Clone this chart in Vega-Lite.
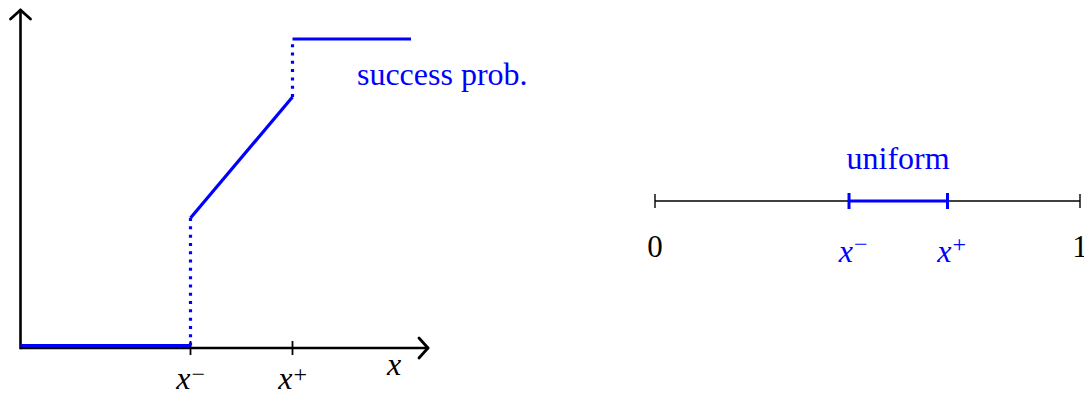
{
  "$schema": "https://vega.github.io/schema/vega-lite/v6.json",
  "width": 1084,
  "height": 394,
  "padding": 0,
  "autosize": "none",
  "background": "white",
  "config": {"view": {"stroke": null}, "text": {"font": "'Liberation Serif', 'DejaVu Serif', serif"}},
  "layer": [
    {
      "encoding": {
        "x": {"field": "x", "type": "quantitative", "axis": null,
              "scale": {"domain": [-0.120588, 6.255882], "nice": false, "zero": false}},
        "y": {"field": "y", "type": "quantitative", "axis": null,
              "scale": {"domain": [-0.14887, 1.12621], "nice": false, "zero": false}}
      },
      "layer": [
        {
          "data": {"values": [
            {"part": "x axis", "x": 0, "y": 0, "x2": 2.397, "y2": 0},
            {"part": "y axis", "x": 0, "y": -0.004, "x2": 0, "y2": 1.094}
          ]},
          "mark": {"type": "rule", "color": "black", "strokeWidth": 2.6},
          "encoding": {"x2": {"field": "x2"}, "y2": {"field": "y2"}}
        },
        {
          "data": {"values": [
            {"part": "x arrow", "x": 2.344, "y": 0.0324, "x2": 2.397, "y2": 0},
            {"part": "x arrow", "x": 2.344, "y": -0.0324, "x2": 2.397, "y2": 0},
            {"part": "y arrow", "x": -0.0588, "y": 1.0647, "x2": 0, "y2": 1.094},
            {"part": "y arrow", "x": 0.0588, "y": 1.0647, "x2": 0, "y2": 1.094}
          ]},
          "mark": {"type": "rule", "color": "black", "strokeWidth": 2.8, "strokeCap": "round"},
          "encoding": {"x2": {"field": "x2"}, "y2": {"field": "y2"}}
        },
        {
          "data": {"values": [{"x": 1, "y": 0}, {"x": 1.6, "y": 0}]},
          "mark": {"type": "tick", "orient": "vertical", "color": "black", "size": 14, "thickness": 1.8, "opacity": 1}
        },
        {
          "data": {"values": [{"x": 0, "y": 0, "x2": 1, "y2": 0}]},
          "mark": {"type": "rule", "color": "#0000ff", "strokeWidth": 3.2, "yOffset": -2.5, "y2Offset": -2.5},
          "encoding": {"x2": {"field": "x2"}, "y2": {"field": "y2"}}
        },
        {
          "data": {"values": [
            {"x": 1, "y": 0.4207, "x2": 1.6, "y2": 0.8123},
            {"x": 1.6, "y": 1, "x2": 2.297, "y2": 1}
          ]},
          "mark": {"type": "rule", "color": "#0000ff", "strokeWidth": 3.2},
          "encoding": {"x2": {"field": "x2"}, "y2": {"field": "y2"}}
        },
        {
          "data": {"values": [
            {"x": 1, "y": 0.008, "x2": 1, "y2": 0.4207},
            {"x": 1.6, "y": 0.8123, "x2": 1.6, "y2": 1}
          ]},
          "mark": {"type": "rule", "color": "#0000ff", "strokeWidth": 3.2, "strokeDash": [3, 5.3]},
          "encoding": {"x2": {"field": "x2"}, "y2": {"field": "y2"}}
        },
        {
          "data": {"values": [{"x": 1.979, "y": 0.8511, "label": "success prob."}]},
          "mark": {"type": "text", "align": "left", "baseline": "alphabetic", "color": "#0000ff", "fontSize": 32},
          "encoding": {"text": {"field": "label"}}
        },
        {
          "data": {"values": [{"x": 2.197, "y": 0, "label": "x"}]},
          "mark": {"type": "text", "align": "center", "baseline": "alphabetic", "dy": 27, "color": "black",
                   "fontStyle": "italic", "fontSize": 32},
          "encoding": {"text": {"field": "label"}}
        },
        {
          "data": {"values": [
            {"x": 1, "y": 0, "base": "x", "sup": "−"},
            {"x": 1.6, "y": 0, "base": "x", "sup": "+"}
          ]},
          "layer": [
            {
              "mark": {"type": "text", "align": "right", "baseline": "alphabetic", "dy": 41, "dx": 0, "color": "black",
                       "fontStyle": "italic", "fontSize": 32},
              "encoding": {"text": {"field": "base"}}
            },
            {
              "mark": {"type": "text", "align": "left", "baseline": "alphabetic", "dy": 34, "dx": 1, "color": "black",
                       "fontSize": 24},
              "encoding": {"text": {"field": "sup"}}
            }
          ]
        }
      ]
    },
    {
      "encoding": {
        "x": {"field": "t", "type": "quantitative", "axis": null,
              "scale": {"domain": [-1.541176, 1.009412], "nice": false, "zero": false}},
        "y": {"datum": 0, "type": "quantitative", "axis": null,
              "scale": {"domain": [-0.9602, 1], "nice": false, "zero": false}}
      },
      "layer": [
        {
          "data": {"values": [{"t": 0, "t2": 1}]},
          "mark": {"type": "rule", "color": "black", "strokeWidth": 1.4},
          "encoding": {"x2": {"field": "t2"}}
        },
        {
          "data": {"values": [{"t": 0}, {"t": 1}]},
          "mark": {"type": "tick", "orient": "vertical", "color": "black", "size": 14, "thickness": 1.4, "opacity": 1}
        },
        {
          "data": {"values": [{"t": 0.4565, "t2": 0.6882}]},
          "mark": {"type": "rule", "color": "#0000ff", "strokeWidth": 3.2},
          "encoding": {"x2": {"field": "t2"}}
        },
        {
          "data": {"values": [{"t": 0.4565}, {"t": 0.6882}]},
          "mark": {"type": "tick", "orient": "vertical", "color": "#0000ff", "size": 16, "thickness": 3, "opacity": 1}
        },
        {
          "data": {"values": [{"t": 0.572, "label": "uniform"}]},
          "mark": {"type": "text", "align": "center", "baseline": "alphabetic", "dy": -32, "color": "#0000ff", "fontSize": 32},
          "encoding": {"text": {"field": "label"}}
        },
        {
          "data": {"values": [{"t": 0, "label": "0"}, {"t": 1, "label": "1"}]},
          "mark": {"type": "text", "align": "center", "baseline": "alphabetic", "dy": 56, "color": "black", "fontSize": 31},
          "encoding": {"text": {"field": "label"}}
        },
        {
          "data": {"values": [
            {"t": 0.4565, "base": "x", "sup": "−"},
            {"t": 0.6882, "base": "x", "sup": "+"}
          ]},
          "layer": [
            {
              "mark": {"type": "text", "align": "right", "baseline": "alphabetic", "dy": 61.5, "dx": 4, "color": "#0000ff",
                       "fontStyle": "italic", "fontSize": 32},
              "encoding": {"text": {"field": "base"}}
            },
            {
              "mark": {"type": "text", "align": "left", "baseline": "alphabetic", "dy": 51, "dx": 5, "color": "#0000ff",
                       "fontSize": 24},
              "encoding": {"text": {"field": "sup"}}
            }
          ]
        }
      ]
    }
  ],
  "resolve": {"scale": {"x": "independent", "y": "independent"}}
}
